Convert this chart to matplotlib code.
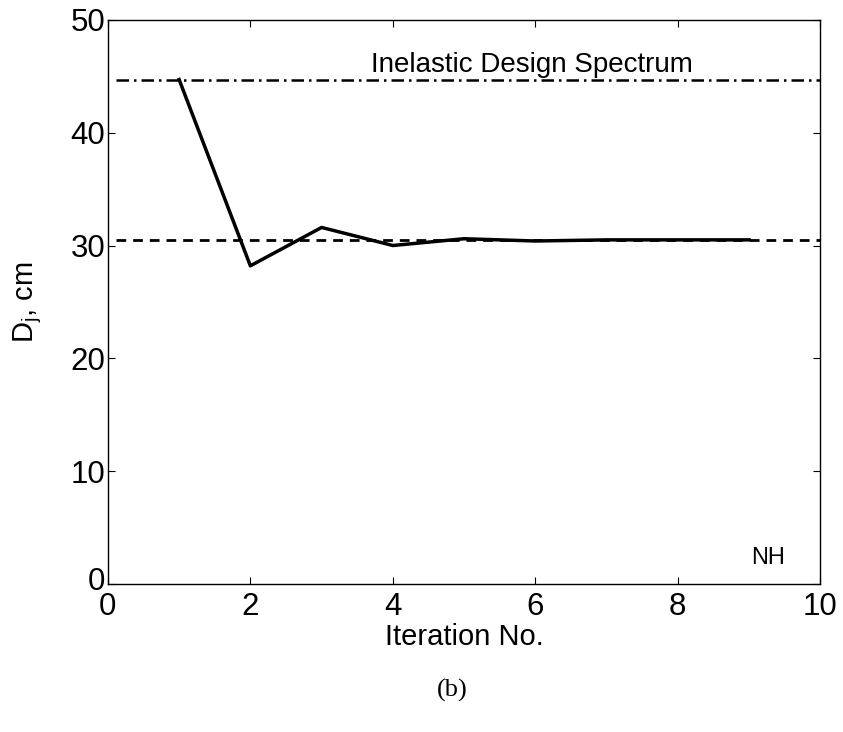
import matplotlib
matplotlib.use("Agg")
import matplotlib.pyplot as plt
from matplotlib import font_manager
from matplotlib.transforms import ScaledTranslation

# datos
iteraciones = [1, 2, 3, 4, 5, 6, 7, 8, 9]
desplazamiento = [44.7, 28.2, 31.6, 30.0, 30.6, 30.4, 30.5, 30.5, 30.5]
espectro_inelastico = 44.7
valor_convergido = 30.5

# fuente tipo Helvetica
nombres = {f.name for f in font_manager.fontManager.ttflist}
fuente = "Liberation Sans" if "Liberation Sans" in nombres else "DejaVu Sans"
plt.rcParams["font.family"] = [fuente, "DejaVu Sans"]

fig = plt.figure(figsize=(8.43, 7.32), dpi=100)
ax = fig.add_axes([0.128, 0.202, 0.845, 0.771])

ax.hlines(espectro_inelastico, 0.12, 10, colors="black", linestyles=(0, (5, 2, 1, 2)), linewidth=1.8)
ax.hlines(valor_convergido, 0.12, 10, colors="black", linestyles=(0, (3.5, 2.5)), linewidth=2.0)
ax.plot(iteraciones, desplazamiento, color="black", linewidth=2.5)

ax.text(5.95, 45.4, "Inelastic Design Spectrum", ha="center", va="baseline", fontsize=20)
ax.text(9.27, 1.8, "NH", ha="center", va="baseline", fontsize=17)

ax.set_xlim(0, 10)
ax.set_ylim(0, 50)
ax.set_xticks([0, 2, 4, 6, 8, 10])
ax.set_yticks([0, 10, 20, 30, 40, 50])
ax.tick_params(direction="in", top=True, right=True, labelsize=22.5, length=5)
ax.tick_params(axis="x", pad=6)
ax.tick_params(axis="y", pad=2)
ax.set_xlabel("Iteration No.", fontsize=21, labelpad=0.5)
ax.set_ylabel("D$_\\mathregular{j}$, cm", fontsize=21, labelpad=19)
for lado in ax.spines.values():
    lado.set_linewidth(1.0)

# el "0" del eje y sube un poco para no pisar el "0" del eje x
cero_y = ax.yaxis.get_major_ticks()[0].label1
cero_y.set_transform(cero_y.get_transform() + ScaledTranslation(0, 4 / 72, fig.dpi_scale_trans))

fig.text(0.537, 0.057, "(b)", ha="center", va="center", fontsize=19, family="Liberation Serif")

fig.savefig("out.png", dpi=100)
